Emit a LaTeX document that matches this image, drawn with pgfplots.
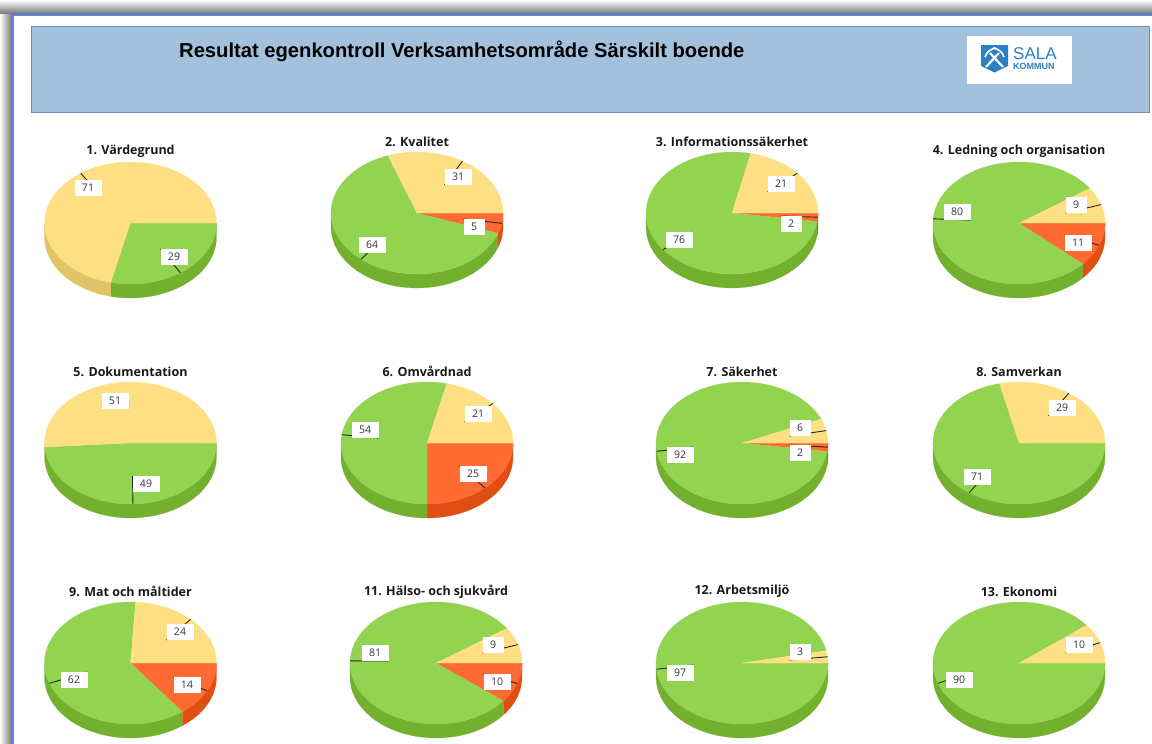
\documentclass[border=0pt]{standalone}
\usepackage{pgfplots}
\usepackage{pgfplotstable}
\usepackage{fontspec}
\pgfplotsset{compat=1.18}
\setmainfont{Open Sans}
\newfontfamily\bannerfont{Liberation Sans}
\definecolor{pY}{HTML}{FFDF84}
\definecolor{pG}{HTML}{92D350}
\definecolor{pR}{HTML}{FF6B33}
\definecolor{wY}{HTML}{E2C466}
\definecolor{wG}{HTML}{72B02E}
\definecolor{wR}{HTML}{E04E14}
\definecolor{banner}{HTML}{A3C1DD}
\definecolor{bannerline}{HTML}{6D8EB3}
\definecolor{frameblue}{HTML}{5B85DF}
\definecolor{logoblue}{HTML}{2B7FC3}
\definecolor{labeltext}{RGB}{50,50,70}
\pgfplotstableread[col sep=comma]{
cx,cy,title,red,green,yellow,rlx,rly,glx,gly,ylx,yly,yf
130.5,223,1. Värdegrund,0,29,71,0,0,174,257,88,188,1
417,213,2. Kvalitet,5,64,31,474,227,372,245,458,177,1
732,213,3. Informationssäkerhet,2,76,21,791,224,679,240,781,184,1
1019,223,4. Ledning och organisation,11,80,9,1078,243,957,212,1076,205,1
130.5,443,5. Dokumentation,0,49,51,0,0,146,484,115,401,0.7
427,443,6. Omvårdnad,25,54,21,473,474,365,430,478,414,1
742,443,7. Säkerhet,2,92,6,800,453,680,455,800,428,1
1019,443,8. Samverkan,0,71,29,0,0,977,477,1062,408,1
130.5,663,9. Mat och måltider,14,62,24,187,685,74,680,180,632,1
436,663,11. Hälso- och sjukvård,10,81,9,497,682,375,653,493,645,1
742,663,12. Arbetsmiljö,0,97,3,0,0,680,673,800,652,1
1019,663,13. Ekonomi,0,90,10,0,0,959,680,1079,645,1
}\piedata
\newcommand{\pieget}[2]{\pgfplotstablegetelem{#1}{#2}\of\piedata\expandafter\let\csname p#2\endcsname\pgfplotsretval}
% outline of a slice: rim at indices 0..60, centre at index 61
\newcommand{\pieTop}[5]{%
  \addplot[fill=#5,draw=#5,line width=0.2pt,no markers,domain=0:61,samples=62]
   ({#1+86*(x<60.5)*cos(pa(#3+(#4-#3)*x/60))},{#2+61*(x<60.5)*sin(pa(#3+(#4-#3)*x/60))});}
% wall: lower rim at indices 0..30, upper rim back at 31..61
\newcommand{\pieWall}[5]{%
  \addplot[fill=#5,draw=#5,line width=0.2pt,no markers,domain=0:61,samples=62]
   ({#1+86*cos(pa((x<30.5)*(#3+(#4-#3)*x/30)+(x>30.5)*(#4-(#4-#3)*(x-31)/30)))},
    {#2+14*(x<30.5)+61*sin(pa((x<30.5)*(#3+(#4-#3)*x/30)+(x>30.5)*(#4-(#4-#3)*(x-31)/30)))});}
\newcommand{\pieLabel}[8]{% rimx rimy cornerx cornery labelx labely value width
  \addplot[black!85,line width=0.9pt,no markers] coordinates {(#1,#2) (#3,#4)};
  \node[fill=white,inner sep=0pt,minimum width=#8,minimum height=16pt,font=\fontsize{10.5}{12}\selectfont,text=labeltext] at (axis cs:#5,#6) {#7};}
\newcommand{\runWall}[3]{%
  \pgfmathsetmacro\wb{min(#2,180)}%
  \ifdim#1pt<180pt\ifdim\wb pt>#1pt
    \edef\myrun{\noexpand\pieWall{\pcx}{\pcy}{#1}{\wb}{#3}}\myrun
  \fi\fi}
\newcommand{\runTop}[3]{%
  \ifdim#2pt>#1pt
    \edef\myrun{\noexpand\pieTop{\pcx}{\pcy}{#1}{#2}{#3}}\myrun
  \fi}
\newcommand{\runLabel}[6]{% a b labelx labely value rimfactor
  \ifdim#2pt>#1pt
    \pgfmathsetmacro\mid{(#1+#2)/2}%
    \pgfmathsetmacro\mid{\mid+2.5*sin(2*\mid)}%
    \pgfmathsetmacro\mx{\pcx+#6*86*cos(\mid)}%
    \pgfmathsetmacro\my{\pcy+#6*61*sin(\mid)}%
    \ifnum#5<10 \def\bw{21pt}\def\hw{10.5}\else\def\bw{27pt}\def\hw{13.5}\fi
    \ifdim#3pt<\pcx pt \pgfmathsetmacro\ex{#3+\hw}\else\pgfmathsetmacro\ex{#3-\hw}\fi
    \ifdim#4pt<\pcy pt \pgfmathsetmacro\ey{#4+8}\else\pgfmathsetmacro\ey{#4-8}\fi
    \edef\myrun{\noexpand\pieLabel{\mx}{\my}{\ex}{\ey}{#3}{#4}{#5}{\bw}}\myrun
  \fi}
\newcommand{\drawpie}[1]{%
  \pieget{#1}{cx}\pieget{#1}{cy}\pieget{#1}{title}\pieget{#1}{red}\pieget{#1}{green}\pieget{#1}{yellow}%
  \pieget{#1}{rlx}\pieget{#1}{rly}\pieget{#1}{glx}\pieget{#1}{gly}\pieget{#1}{ylx}\pieget{#1}{yly}\pieget{#1}{yf}%
  \pgfmathsetmacro\sumv{\pred+\pgreen+\pyellow}%
  \pgfmathsetmacro\angr{360*(\pred/\sumv)}%
  \pgfmathsetmacro\angg{360*((\pred+\pgreen)/\sumv)}%
  \edef\angR{\angr}\edef\angG{\angg}%
  \runWall{0}{\angR}{wR}\runWall{\angR}{\angG}{wG}\runWall{\angG}{360}{wY}%
  \runTop{0}{\angR}{pR}\runTop{\angR}{\angG}{pG}\runTop{\angG}{360}{pY}%
  \runLabel{0}{\angR}{\prlx}{\prly}{\pred}{1}%
  \runLabel{\angR}{\angG}{\pglx}{\pgly}{\pgreen}{1}%
  \runLabel{\angG}{360}{\pylx}{\pyly}{\pyellow}{\pyf}%
  \pgfmathsetmacro\ty{\pcy-71.5}%
  \edef\myrun{\noexpand\node[font=\noexpand\fontsize{12.5}{14}\noexpand\selectfont\noexpand\bfseries,text=black!90] at (axis cs:\pcx,\ty) {\ptitle};}\myrun
}
\begin{document}
\begin{tikzpicture}
\path[use as bounding box] (0,0) rectangle (1152pt,744pt);
\begin{axis}[scale only axis,width=1152pt,height=744pt,xmin=0,xmax=1152,ymin=0,ymax=744,y dir=reverse,
  axis lines=none,clip=false,ticks=none,declare function={pa(\t)=\t+2.5*sin(2*\t);}]
% window frame
\fill[white] (axis cs:0,0) rectangle (axis cs:1152,744);
\shade[top color=white,bottom color=black!55] (axis cs:0,0) rectangle (axis cs:1152,14);
\shade[left color=white,right color=black!55] (axis cs:0,14) rectangle (axis cs:12,744);
\fill[frameblue] (axis cs:12,14) rectangle (axis cs:1152,16);
\fill[frameblue] (axis cs:12,14) rectangle (axis cs:14,744);
% banner
\filldraw[fill=banner,draw=bannerline,line width=0.9pt] (axis cs:31,26) rectangle (axis cs:1149,112);
\node[font=\bannerfont\fontsize{20.18}{24}\selectfont\bfseries,anchor=west,inner sep=0pt] at (axis cs:179,51) {Resultat egenkontroll Verksamhetsområde Särskilt boende};
% logo
\fill[white] (axis cs:967,36) rectangle (axis cs:1072,84);
\fill[logoblue] (axis cs:981,45) -- (axis cs:1008,45) -- (axis cs:1008,66) -- (axis cs:994.5,72.5) -- (axis cs:981,66) -- cycle;
\draw[white,line width=2.2pt] (axis cs:986,67) -- (axis cs:999,53);
\draw[white,line width=2.2pt] (axis cs:1003,67) -- (axis cs:990,53);
\draw[white,line width=1.6pt] (axis cs:985,57) .. controls (axis cs:987,51) and (axis cs:991,49) .. (axis cs:996,48);
\draw[white,line width=1.6pt] (axis cs:1004,57) .. controls (axis cs:1002,51) and (axis cs:998,49) .. (axis cs:993,48);
\node[font=\bannerfont\fontsize{17}{18}\selectfont,text=logoblue,anchor=west,inner sep=0pt] at (axis cs:1013,53.5) {SALA};
\node[font=\bannerfont\fontsize{9}{9}\selectfont\bfseries,text=logoblue,anchor=west,inner sep=0pt] at (axis cs:1013,66) {KOMMUN};
\pgfplotsinvokeforeach{0,1,2,3,4,5,6,7,8,9,10,11}{\drawpie{#1}}
\end{axis}
\end{tikzpicture}
\end{document}
